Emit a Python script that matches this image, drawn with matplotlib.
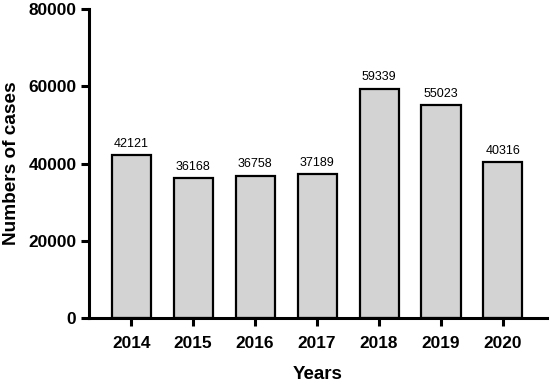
import matplotlib
matplotlib.use("Agg")
import matplotlib.pyplot as plt

years = ["2014", "2015", "2016", "2017", "2018", "2019", "2020"]
cases = [42121, 36168, 36758, 37189, 59339, 55023, 40316]
yticks = [0, 20000, 40000, 60000, 80000]

plt.rcParams['font.family'] = ['Liberation Sans', 'DejaVu Sans']

fig = plt.figure(figsize=(5.51, 3.88), dpi=100)
ax = fig.add_axes([0.1615, 0.1804, 0.8312, 0.7964])

x = list(range(len(years)))
bars = ax.bar(x, cases, width=0.63, color="#d3d3d3", edgecolor="black", linewidth=1.6)
for xi, v in zip(x, cases):
    ax.annotate(str(v), (xi, v), xytext=(0, 4), textcoords="offset points",
                ha="center", va="bottom", fontsize=9)

ax.set_xlim(-0.68, 6.71)
ax.set_ylim(0, 80000)
ax.set_yticks(yticks)
ax.set_yticklabels([str(t) for t in yticks], fontsize=12.4, fontweight="bold")
ax.set_xticks(x)
ax.set_xticklabels(years, fontsize=12.4, fontweight="bold")
ax.tick_params(axis="both", width=2.2, length=6, direction="out")
ax.tick_params(axis="x", pad=7)
ax.tick_params(axis="y", pad=3)

for s in ["top", "right"]:
    ax.spines[s].set_visible(False)
for s in ["left", "bottom"]:
    ax.spines[s].set_linewidth(2.2)

ax.set_ylabel("Numbers of cases", fontsize=13.7, fontweight="bold", labelpad=6)
ax.set_xlabel("Years", fontsize=13.5, fontweight="bold", labelpad=11)

fig.savefig("out.png", dpi=100)
